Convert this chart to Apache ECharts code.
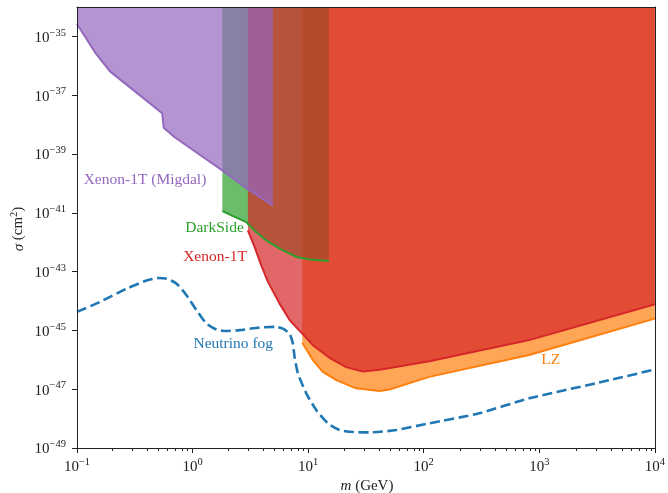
<!DOCTYPE html>
<html>
<head>
<meta charset="utf-8">
<script src="https://cdn.jsdelivr.net/npm/echarts@6/dist/echarts.min.js"></script>
<style>
html,body{margin:0;padding:0;background:#fff;}
#chart{width:668px;height:493px;}
</style>
</head>
<body>
<div id="chart"></div>
<script>
// ---- data (mass in GeV, cross-section in cm^2) ----
const migdalMass  = [0.1, 0.143, 0.193, 0.546, 0.563, 0.70, 1.81, 2.96, 4.95];
const migdalSigma = [2.63e-35, 2.88e-36, 6.46e-37, 2.43e-38, 7.76e-39, 3.72e-39, 2.75e-40, 6.61e-41, 1.78e-41];

const darksideMass  = [1.81, 2.24, 2.92, 3.56, 4.35, 5.66, 7.89, 10.3, 15.1];
const darksideSigma = [1.15e-41, 7.76e-42, 4.79e-42, 2.19e-42, 1.15e-42, 6.03e-43, 3.16e-43, 2.57e-43, 2.29e-43];

const xenonMass  = [3.01, 3.44, 3.93, 4.49, 5.66, 6.91, 8.89, 10.98, 15.3, 21.3, 29.7, 42.8, 111.7, 817, 10000];
const xenonSigma = [2.51e-42, 6.92e-43, 1.62e-43, 4.47e-44, 8.13e-45, 2.24e-45, 7.76e-46, 3.16e-46, 1.17e-46, 5.62e-47, 3.98e-47, 4.68e-47, 8.91e-47, 4.68e-46, 7.76e-45];

const lzMass  = [8.89, 10.98, 13.4, 17.5, 26.0, 41.4, 50.4, 111.7, 817, 10000];
const lzSigma = [3.80e-46, 9.77e-47, 3.89e-47, 2.04e-47, 1.07e-47, 8.71e-48, 9.77e-48, 2.63e-47, 1.45e-46, 2.51e-45];

const fogMass  = [0.1, 0.158, 0.269, 0.400, 0.504, 0.595, 0.727, 0.886, 1.08, 1.32, 1.61, 1.96, 2.56, 3.80, 5.30, 6.05, 6.91, 7.38, 7.63, 8.15, 9.63, 11.75, 14.8, 18.7, 22.8, 33.9, 57.7, 111.7, 302, 817, 3076, 10000];
const fogSigma = [4.27e-45, 9.33e-45, 2.63e-44, 5.01e-44, 6.03e-44, 5.75e-44, 3.89e-44, 1.58e-44, 4.90e-45, 1.70e-45, 1.07e-45, 9.55e-46, 1.02e-45, 1.26e-45, 1.32e-45, 1.15e-45, 7.76e-46, 3.55e-46, 1.26e-46, 3.47e-47, 7.24e-48, 1.95e-48, 6.92e-49, 4.07e-49, 3.55e-49, 3.39e-49, 4.07e-49, 6.92e-49, 1.51e-48, 4.90e-48, 1.58e-47, 4.68e-47];

// tick exponents
const xTickExp = [-1, 0, 1, 2, 3, 4];
const yTickExp = [-49, -47, -45, -43, -41, -39, -37, -35];

// ---- helpers ----
const FONT = '"Liberation Serif", "Times New Roman", serif';
const AX = '#222';
function pts(m, s) { return m.map((v, i) => [Math.log10(v), Math.log10(s[i])]); }
function expLabel(v) {
  const e = Math.round(v);
  return '{b|10}{s|' + (e < 0 ? '\u2212' + (-e) : String(e)) + '}';
}
const rich = {
  b: { fontFamily: FONT, fontSize: 15, color: AX, lineHeight: 18, verticalAlign: 'bottom' },
  s: { fontFamily: FONT, fontSize: 10.5, color: AX, lineHeight: 10, verticalAlign: 'top' }
};
const minorX = [];
for (let d = -1; d < 4; d++) for (let k = 2; k <= 9; k++) minorX.push(d + Math.log10(k));

const COL = { purple: '#9467bd', green: '#2ca02c', red: '#d62728', orange: '#ff7f0e', blue: '#1f77b4' };

function fill(m, s, color) {
  return { type: 'line', data: pts(m, s), symbol: 'none', silent: true, z: 2,
    lineStyle: { opacity: 0 }, areaStyle: { color: color, opacity: 0.7, origin: 'end' } };
}
function edge(m, s, color) {
  return { type: 'line', data: pts(m, s), symbol: 'none', silent: true, z: 3,
    lineStyle: { color: color, width: 2 } };
}

const chart = echarts.init(document.getElementById('chart'), null, { renderer: 'canvas' });
const grid = { left: 77, right: 11, top: 7, bottom: 45 };
chart.setOption({
  animation: false,
  backgroundColor: '#fff',
  grid: [Object.assign({}, grid), Object.assign({}, grid)],
  xAxis: [
    { type: 'value', gridIndex: 0, min: -1, max: 4, interval: 1, position: 'bottom', z: 5,
      axisLine: { show: true, onZero: false, lineStyle: { color: AX, width: 1 } },
      axisTick: { show: true, length: 5, customValues: xTickExp, lineStyle: { color: AX, width: 1 } },
      axisLabel: { show: true, margin: 9, customValues: xTickExp, formatter: expLabel, rich: rich },
      splitLine: { show: false } },
    { type: 'value', gridIndex: 0, min: -1, max: 4, position: 'top', z: 5,
      axisLine: { show: true, onZero: false, lineStyle: { color: AX, width: 1 } },
      axisTick: { show: false }, axisLabel: { show: false }, splitLine: { show: false } },
    { type: 'value', gridIndex: 1, min: -1, max: 4, position: 'bottom', z: 5,
      axisLine: { show: false },
      axisTick: { show: true, length: 3, customValues: minorX, lineStyle: { color: AX, width: 1 } },
      axisLabel: { show: false }, splitLine: { show: false } }
  ],
  yAxis: [
    { type: 'value', gridIndex: 0, min: -49, max: -34, interval: 1, position: 'left', z: 5,
      axisLine: { show: true, onZero: false, lineStyle: { color: AX, width: 1 } },
      axisTick: { show: true, length: 5, customValues: yTickExp, lineStyle: { color: AX, width: 1 } },
      axisLabel: { show: true, margin: 11, customValues: yTickExp, formatter: expLabel, rich: rich },
      splitLine: { show: false } },
    { type: 'value', gridIndex: 0, min: -49, max: -34, position: 'right', z: 5,
      axisLine: { show: true, onZero: false, lineStyle: { color: AX, width: 1 } },
      axisTick: { show: false }, axisLabel: { show: false }, splitLine: { show: false } },
    { type: 'value', gridIndex: 1, min: 0, max: 1, show: false }
  ],
  series: [
    fill(lzMass, lzSigma, COL.orange),
    fill(darksideMass, darksideSigma, COL.green),
    fill(xenonMass, xenonSigma, COL.red),
    fill(migdalMass, migdalSigma, COL.purple),
    { type: 'line', data: pts(fogMass, fogSigma), symbol: 'none', silent: true, z: 3,
      smooth: 0.2,
      lineStyle: { color: COL.blue, width: 2.6, type: [10, 4.5] } },
    edge(lzMass, lzSigma, COL.orange),
    edge(darksideMass, darksideSigma, COL.green),
    edge(xenonMass, xenonSigma, COL.red),
    edge(migdalMass, migdalSigma, COL.purple)
  ],
  graphic: [
    { type: 'text', x: 145, y: 179.5, z: 10, style: { text: 'Xenon-1T (Migdal)', fill: COL.purple, font: '15.5px ' + FONT, textAlign: 'center', textVerticalAlign: 'middle', align: 'center', verticalAlign: 'middle' } },
    { type: 'text', x: 214.5, y: 227.7, z: 10, style: { text: 'DarkSide', fill: COL.green, font: '15.5px ' + FONT, textAlign: 'center', textVerticalAlign: 'middle', align: 'center', verticalAlign: 'middle' } },
    { type: 'text', x: 215, y: 257, z: 10, style: { text: 'Xenon-1T', fill: COL.red, font: '15.5px ' + FONT, textAlign: 'center', textVerticalAlign: 'middle', align: 'center', verticalAlign: 'middle' } },
    { type: 'text', x: 233.3, y: 343.7, z: 10, style: { text: 'Neutrino fog', fill: COL.blue, font: '15.5px ' + FONT, textAlign: 'center', textVerticalAlign: 'middle', align: 'center', verticalAlign: 'middle' } },
    { type: 'text', x: 550.8, y: 359.5, z: 10, style: { text: 'LZ', fill: COL.orange, font: '15.5px ' + FONT, textAlign: 'center', textVerticalAlign: 'middle', align: 'center', verticalAlign: 'middle' } },
    { type: 'text', x: 367, y: 486, z: 10, style: { text: '{i|m} (GeV)', fill: AX, font: '15px ' + FONT, textAlign: 'center', textVerticalAlign: 'middle', align: 'center', verticalAlign: 'middle',
      rich: { i: { fontFamily: FONT, fontSize: 15, fontStyle: 'italic', color: AX } } } },
    { type: 'text', x: 18, y: 229, z: 10, rotation: Math.PI / 2, style: { text: '{i|\u03c3} (cm{s|2})', fill: AX, font: '15px ' + FONT, textAlign: 'center', textVerticalAlign: 'middle', align: 'center', verticalAlign: 'middle',
      rich: { i: { fontFamily: FONT, fontSize: 15, fontStyle: 'italic', color: AX, lineHeight: 18, verticalAlign: 'bottom' },
              s: { fontFamily: FONT, fontSize: 10.5, color: AX, lineHeight: 10, verticalAlign: 'top' } } } }
  ]
});
</script>
</body>
</html>
